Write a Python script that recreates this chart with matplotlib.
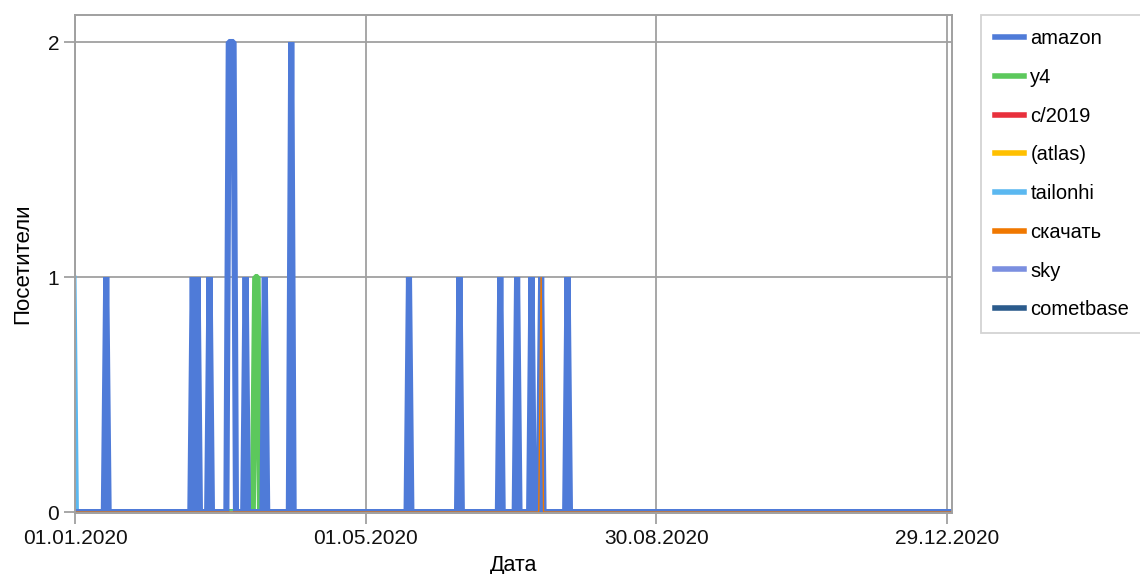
import pandas as pd
import matplotlib
matplotlib.use("Agg")
from matplotlib import pyplot as plt
import matplotlib.dates as mdates

plt.rcParams['font.family'] = ['Liberation Sans', 'DejaVu Sans']

# visits per day (only non-zero days listed)
amazon_dates = ['2020-01-14', '2020-02-19', '2020-02-21', '2020-02-26',
                '2020-03-05', '2020-03-06', '2020-03-07',
                '2020-03-12', '2020-03-20', '2020-03-31', '2020-05-19',
                '2020-06-09', '2020-06-26', '2020-07-03', '2020-07-09',
                '2020-07-13', '2020-07-24']
amazon_vals = [1, 1, 1, 1, 2, 2, 2, 1, 1, 2, 1, 1, 1, 1, 1, 1, 1]
y4_dates = ['2020-03-16', '2020-03-17']
y4_vals = [1, 1]
c2019_dates = []
c2019_vals = []
atlas_dates = []
atlas_vals = []
tailonhi_dates = ['2020-01-01']
tailonhi_vals = [1]
skachat_dates = ['2020-07-13']
skachat_vals = [1]
sky_dates = []
sky_vals = []
cometbase_dates = []
cometbase_vals = []

names = ['amazon', 'y4', 'c/2019', '(atlas)', 'tailonhi', 'скачать', 'sky', 'cometbase']
colors = ['#4f7bd8', '#5cc85c', '#e8303c', '#ffc000', '#5bb8f0', '#f07800', '#7b8fe0', '#2b5b8c']
widths = [4.4, 4.4, 1.5, 1.5, 2.2, 1.0, 1.5, 1.0]
zorders = [2.2, 2.1, 2.0, 2.0, 2.1, 2.3, 2.0, 2.0]

tick_dates = ['2020-01-01', '2020-05-01', '2020-08-30', '2020-12-29']

days = pd.date_range('2020-01-01', '2020-12-31', freq='D')


def daily(d, v):
    s = pd.Series(v, index=pd.to_datetime(d), dtype=float)
    return s.reindex(days, fill_value=0.0)


series = [daily(amazon_dates, amazon_vals), daily(y4_dates, y4_vals),
          daily(c2019_dates, c2019_vals), daily(atlas_dates, atlas_vals),
          daily(tailonhi_dates, tailonhi_vals), daily(skachat_dates, skachat_vals),
          daily(sky_dates, sky_vals), daily(cometbase_dates, cometbase_vals)]

fig = plt.figure(figsize=(11.4, 5.74), dpi=100)
ax = fig.add_axes([75/1140, 1-513/574, (952-75)/1140, (513-15)/574])

for s, name, c, w, z in zip(series, names, colors, widths, zorders):
    ax.plot(s.index, s.values, color=c, lw=w, label=name, zorder=z,
            solid_joinstyle='bevel')

ax.set_xlim(days[0], days[-1])
ax.set_ylim(-0.004, 2.115)
ax.set_yticks([0, 1, 2])
ax.set_xticks(pd.to_datetime(tick_dates))
ax.xaxis.set_major_formatter(mdates.DateFormatter('%d.%m.%Y'))
ax.grid(True, color='#a0a0a0', lw=1.3)
ax.set_axisbelow(True)
for sp in ax.spines.values():
    sp.set_color('#a0a0a0')
    sp.set_linewidth(1.4)
    sp.set_zorder(2.5)
ax.tick_params(colors='#a0a0a0', labelcolor='#111111', labelsize=15, length=8, width=1.3)
ax.set_xlabel('Дата', fontsize=15.5, labelpad=5)
ax.set_ylabel('Посетители', fontsize=16, labelpad=10)

leg = fig.legend(loc='upper left', bbox_to_anchor=(981/1140, 1-15/574), fontsize=14.5,
                 frameon=True, fancybox=False, edgecolor='#c8c8c8', handlelength=1.45,
                 labelspacing=0.98, handletextpad=0.3, borderpad=0.7,
                 borderaxespad=0)
leg.get_frame().set_linewidth(1.3)
for h in leg.legend_handles:
    h.set_linewidth(4)

plt.savefig('out.png', dpi=100)
